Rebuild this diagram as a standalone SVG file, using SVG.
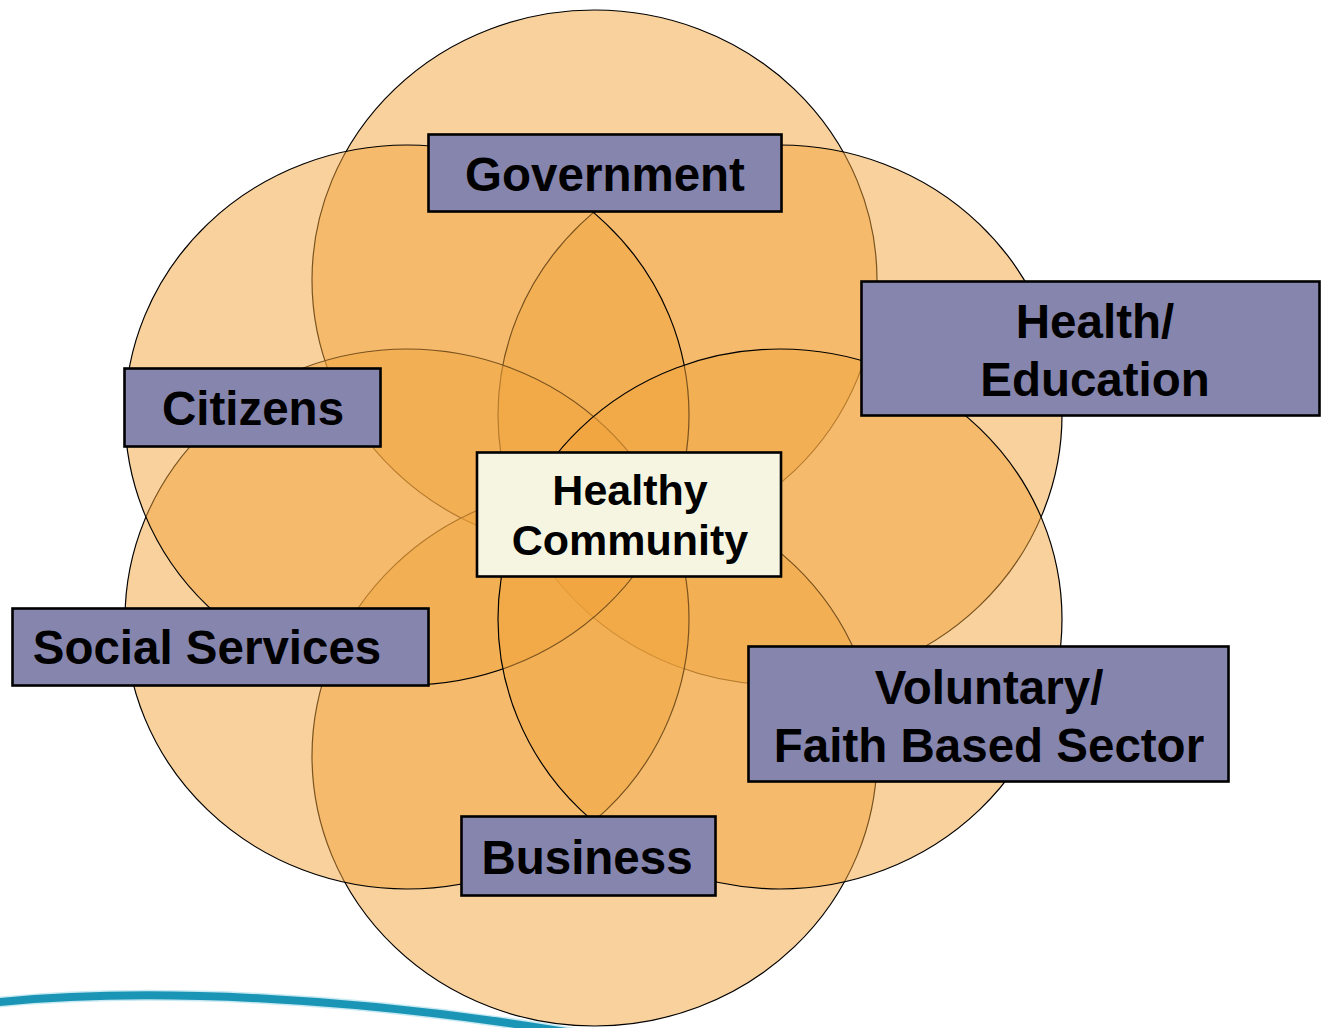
<svg xmlns="http://www.w3.org/2000/svg" width="1321" height="1028" viewBox="0 0 1321 1028">
<style>
.petal{fill:#F1A43C;fill-opacity:0.5;stroke:#000;stroke-width:1.2}
.box{fill:#8585AE;stroke:#000;stroke-width:2.6}
.core{fill:#F5F5E1;stroke:#000;stroke-width:2.6}
.lbl{font-family:"Liberation Sans",Arial,sans-serif;font-weight:bold;font-size:47.5px;fill:#000;text-anchor:middle}
.clbl{font-family:"Liberation Sans",Arial,sans-serif;font-weight:bold;font-size:43px;fill:#000;text-anchor:middle}
</style>
<rect width="1321" height="1028" fill="#fff"/>
<g id="swoosh">
<path d="M -10 1003 C 130 988, 360 992, 640 1045" fill="none" stroke="#C8EAF2" stroke-width="11"/>
<path d="M -10 1003 C 130 988, 360 992, 640 1045" fill="none" stroke="#1B95B6" stroke-width="8"/>
</g>
<g id="petals">
<ellipse id="petal-government" class="petal" cx="594.5" cy="280" rx="282.5" ry="270"/>
<ellipse id="petal-health" class="petal" cx="780" cy="415" rx="282" ry="270"/>
<ellipse id="petal-business" class="petal" cx="594.5" cy="756" rx="282.5" ry="270"/>
<ellipse id="petal-social" class="petal" cx="407" cy="619" rx="282" ry="270"/>
<ellipse id="petal-citizens" class="petal" cx="407" cy="415" rx="282" ry="270"/>
<ellipse id="petal-voluntary" class="petal" cx="780" cy="619" rx="282" ry="270"/>
</g>
<g id="node-government">
<rect class="box" x="428.5" y="134.5" width="353" height="77"/>
<text class="lbl" x="605" y="191">Government</text>
</g>
<g id="node-health">
<rect class="box" x="861.5" y="281.5" width="458" height="134"/>
<text class="lbl" x="1095" y="338">Health/</text>
<text class="lbl" x="1095" y="396">Education</text>
</g>
<g id="node-citizens">
<rect class="box" x="124.5" y="368.5" width="256" height="78"/>
<text class="lbl" x="253" y="425">Citizens</text>
</g>
<g id="node-social">
<rect class="box" x="12.5" y="608.5" width="416" height="77"/>
<text class="lbl" x="207" y="664">Social Services</text>
</g>
<g id="node-voluntary">
<rect class="box" x="748.5" y="646.5" width="480" height="135"/>
<text class="lbl" x="989" y="704">Voluntary/</text>
<text class="lbl" x="989" y="762">Faith Based Sector</text>
</g>
<g id="node-business">
<rect class="box" x="461.5" y="816.5" width="254" height="79"/>
<text class="lbl" x="587" y="874">Business</text>
</g>
<g id="node-healthy-community">
<rect class="core" x="477" y="452.5" width="304" height="124"/>
<text class="clbl" x="630" y="505">Healthy</text>
<text class="clbl" x="630" y="555">Community</text>
</g>
</svg>
